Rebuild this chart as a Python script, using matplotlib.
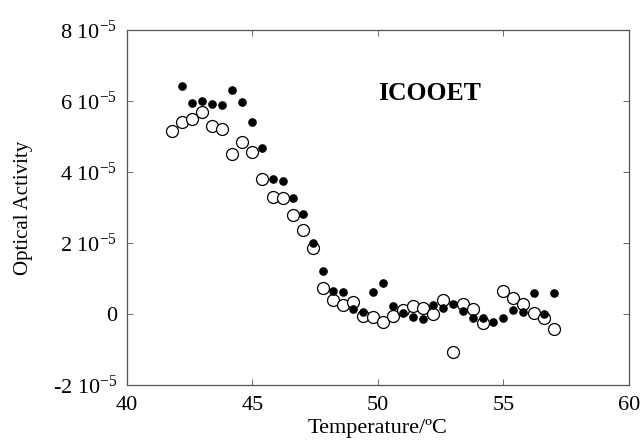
import matplotlib
matplotlib.use("Agg")
import matplotlib.pyplot as plt
from matplotlib.ticker import FixedLocator, FixedFormatter

plt.rcParams['font.family'] = ['Liberation Serif', 'DejaVu Serif']
plt.rcParams['mathtext.fontset'] = 'custom'
plt.rcParams['mathtext.rm'] = 'Liberation Serif'
plt.rcParams['mathtext.it'] = 'Liberation Serif:italic'
plt.rcParams['mathtext.bf'] = 'Liberation Serif:bold'

# Filled dots
filled_T = [42.2, 42.6, 43.0, 43.4, 43.8, 44.2, 44.6, 45.0, 45.4, 45.8, 46.2, 46.6,
            47.0, 47.4, 47.8, 48.2, 48.6, 49.0, 49.4, 49.8, 50.2, 50.6, 51.0, 51.4,
            51.8, 52.2, 52.6, 53.0, 53.4, 53.8, 54.2, 54.6, 55.0, 55.4, 55.8, 56.2,
            56.6, 57.0]
filled_y = [6.42, 5.93, 6.01, 5.91, 5.89, 6.31, 5.98, 5.42, 4.69, 3.80, 3.75, 3.26,
            2.81, 2.01, 1.22, 0.65, 0.63, 0.14, 0.07, 0.61, 0.88, 0.23, 0.02, -0.09,
            -0.15, 0.25, 0.16, 0.27, 0.08, -0.12, -0.12, -0.23, -0.10, 0.12, 0.07, 0.60,
            -0.01, 0.60]

# Open circles
open_T = [41.8, 42.2, 42.6, 43.0, 43.4, 43.8, 44.2, 44.6, 45.0, 45.4, 45.8, 46.2,
          46.6, 47.0, 47.4, 47.8, 48.2, 48.6, 49.0, 49.4, 49.8, 50.2, 50.6, 51.0,
          51.4, 51.8, 52.2, 52.6, 53.0, 53.4, 53.8, 54.2, 55.0, 55.4, 55.8, 56.2,
          56.6, 57.0]
open_y = [5.16, 5.42, 5.48, 5.68, 5.30, 5.20, 4.50, 4.85, 4.57, 3.80, 3.29, 3.28,
          2.79, 2.37, 1.85, 0.72, 0.39, 0.25, 0.35, -0.06, -0.08, -0.22, -0.05, 0.10,
          0.22, 0.18, 0.0, 0.39, -1.06, 0.28, 0.13, -0.26, 0.65, 0.44, 0.27, 0.02,
          -0.12, -0.42]

scale = 1e-5
x_ticks = [40, 45, 50, 55, 60]
y_ticks = [-2e-5, 0, 2e-5, 4e-5, 6e-5, 8e-5]
y_tick_labels = ['-2 10$^{-5}$', '0', '2 10$^{-5}$', '4 10$^{-5}$', '6 10$^{-5}$', '8 10$^{-5}$']

fig = plt.figure(figsize=(6.43, 4.46), dpi=100)
ax = fig.add_axes([0.1975, 0.1368, 0.7805, 0.7959])

ax.plot(open_T, [v * scale for v in open_y], 'o', mfc='white', mec='black',
        mew=0.9, ms=8.6, zorder=2)
ax.plot(filled_T, [v * scale for v in filled_y], 'o', mfc='black', mec='black',
        ms=5.2, zorder=3)

ax.set_xlim(40, 60)
ax.set_ylim(-2e-5, 8e-5)
ax.xaxis.set_major_locator(FixedLocator(x_ticks))
ax.yaxis.set_major_locator(FixedLocator(y_ticks))
ax.yaxis.set_major_formatter(FixedFormatter(y_tick_labels))
ax.tick_params(direction='in', length=4, width=0.6, color='#555555',
               labelsize=16, top=True, right=True)
ax.tick_params(axis='x', pad=8)
ax.tick_params(axis='y', pad=7)

for sp in ax.spines.values():
    sp.set_color('#555555')
    sp.set_linewidth(0.9)

ax.set_xlabel('Temperature/ºC', fontsize=16, labelpad=3)
ax.set_ylabel('Optical Activity', fontsize=15, labelpad=14)

ax.text(0.602, 0.82, 'ICOOET', transform=ax.transAxes, fontsize=18.5,
        fontweight='bold', ha='center', va='center')

fig.savefig('out.png', dpi=100)
